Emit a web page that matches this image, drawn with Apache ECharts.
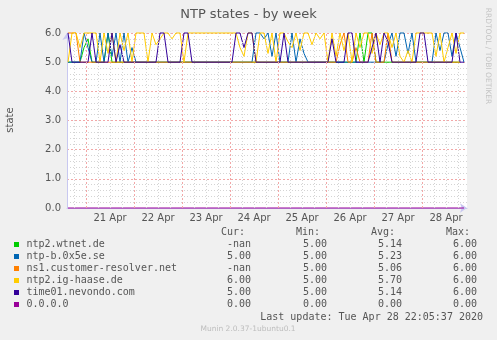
<!DOCTYPE html>
<html>
<head>
<meta charset="utf-8">
<script src="https://cdn.jsdelivr.net/npm/echarts@6/dist/echarts.min.js"></script>
<style>
html,body{margin:0;padding:0;background:#F0F0F0;}
#chart{width:497px;height:340px;}
</style>
</head>
<body>
<div id="chart"></div>
<script>
// time axis: hours since 20 Apr 00:00
const startHour = 15;
const stepHours = 2;
const axisMinHour = 14.5;
const axisMaxHour = 214.5;
const dayLabels = ['21 Apr','22 Apr','23 Apr','24 Apr','25 Apr','26 Apr','27 Apr','28 Apr'];
const dayLabelHours = [36,60,84,108,132,156,180,204];
const yTicks = [0,1,2,3,4,5,6];

const seriesNames = ['ntp2.wtnet.de','ntp-b.0x5e.se','ns1.customer-resolver.net','ntp2.ig-haase.de','time01.nevondo.com','0.0.0.0'];
const seriesColors = ['#00CC00','#0066B3','#FF8000','#FFCC00','#330099','#990099'];

const greenVals = [5,5,5,5,5.5,5.8,5,5,5,5, 6,5,5,5,5,5,5,5,5,5, 5,5,5,5,5,5,5,5,5,5, 5,5,5,5,5,5,5,5,5,5,
  5,5,5,5,5,5,5,5,5,5, 5,5,5,5,5,5,5,5,5,5, 5,5,5,5,5,5,5,5,5,5, 5,5,5,6,5,6,6,5,5,5, 5,5,5,5,5,5,5,5,5,5, 5,5,5,5,5,5,5,5,5,null];
const blueVals = [5,5,5,5,6,5.5,5,5,6,5, 6,5.2,6,5,6,5,5.5,5,5,5, 5,5,5,5,5,5,5,5,5,5, 5,5,5,5,5,5,5,5,5,5,
  5,5,5,5,5,5,5,6,6,5.8, 6,5.2,6,5,5,5,6,5,5.8,5.3, 5,5,5,5,5,5,5,5,5,5, 5,5,5,5,5,5,5,5,5,5,
  5.6,6,5.2,6,6,5.3,6,5,5,5, 5,5,6,5.4,6,6,5.2,6,5.5,5];
const orangeVals = [6,6,6,5,5,5,5,5,5,5, 5,5,5,5,5,5,5,5,5,5, 5,5,5,5,5,5,5,5,5,5, 5,5,5,5,5,5,5,5,5,5,
  5,5,5,5,5,5,5,5,5,5, 5,5,5,5,5,5,5,5,5,5, 5,5,5,5,5,5,5,5,5.6,6, 5,5,5.5,5,5,5,6,5,5,5,
  6,5,5,5,5,5,5,5,5,5, 5,5,5,5,5,5,5,5,5,null];
const yellowVals = [5,6,6,5.5,6,6,6,6,5,6, 5.3,6,5,6,5.4,6,5,6,6,6, 5,6,5.6,5.8,6,6,5.8,6,6,5, 6,6,6,6,6,6,6,6,6,6,
  6,6,6,5.5,5.2,6,6,5,6,6, 5.3,6,5,6,6,5.7,5.5,6,5.4,6, 6,5.6,6,5.8,6,5,6,5.2,6,5.4, 6,5,6,5.5,6,6,5.3,6,5.6,6,
  6,5.5,6,5.2,5,5.4,5,6,6,6, 6,6,5.2,6,5,5.5,6,5.3,6,6];
const purpleVals = [6,5,5,5,5,5,6,5,5,5, 5,6,5,5.6,5,5,5,5,5,5, 5,5,5,6,6,5,5,5,5,6, 6,5,5,5,5,5,5,5,5,5,
  5,5,6,6,5.5,6,6,5,5,5, 5,5,5,5,6,5,5,5,5,5, 5,5,5,5,5,5,5.8,5,5,5, 6,6,5,5,5,5,5.5,6,5,6,
  5.7,5,5,5,5,5,5,5,6,6, 5,5,5,5,5,5,5,6,5,5];
const magentaVals = new Array(100).fill(0);

const curVals = ['-nan','5.00','-nan','6.00','5.00','0.00'];
const minVals = ['5.00','5.00','5.00','5.00','5.00','0.00'];
const avgVals = ['5.14','5.23','5.06','5.70','5.14','0.00'];
const maxVals = ['6.00','6.00','6.00','6.00','6.00','0.00'];

const allVals = [greenVals, blueVals, orangeVals, yellowVals, purpleVals, magentaVals];

const chart = echarts.init(document.getElementById('chart'), null, {renderer:'canvas'});

const gridMarks = [];
for (let h = 18; h <= 210; h += 6) {
  if (h % 24 === 0) {
    gridMarks.push({xAxis: h, lineStyle: {color: '#F2A8A8', type: [2,2], width: 1}});
  } else {
    gridMarks.push({xAxis: h, lineStyle: {color: '#D4D4D4', type: [1,2], width: 1}});
  }
}

const series = [{
  type: 'line', data: [], silent: true, z: 1,
  markLine: {silent: true, symbol: ['none','none'], label: {show: false}, animation: false, data: gridMarks}
}];
allVals.forEach((vals, si) => {
  series.push({
    name: seriesNames[si], type: 'line', showSymbol: false, symbol: 'none', z: 3 + si * 0.01,
    connectNulls: false, animation: false, clip: false,
    lineStyle: {color: seriesColors[si], width: 1},
    itemStyle: {color: seriesColors[si]},
    data: vals.map((v, i) => [startHour + i * stepHours, v])
  });
});

const mono = 'DejaVu Sans Mono';
const textColor = '#555';
const graphics = [];
const rowY = [244.5, 256.5, 268.5, 280.5, 292.5, 304.5];
const colRight = [251, 327, 402, 477];
const headers = ['Cur:','Min:','Avg:','Max:'];
const headerRight = [245, 320, 395, 470];
headers.forEach((h, i) => {
  graphics.push({type:'text', x: headerRight[i], y: 232, style:{text:h, font:'10px "'+mono+'"', fill:textColor, align:'right', verticalAlign:'middle'}});
});
seriesNames.forEach((n, i) => {
  graphics.push({type:'rect', shape:{x:14, y:rowY[i]-2.5, width:5, height:5}, style:{fill:seriesColors[i]}});
  graphics.push({type:'text', x: 26.5, y: rowY[i], style:{text:n, font:'10px "'+mono+'"', fill:textColor, align:'left', verticalAlign:'middle'}});
  [curVals[i], minVals[i], avgVals[i], maxVals[i]].forEach((v, j) => {
    graphics.push({type:'text', x: colRight[j], y: rowY[i], style:{text:v, font:'10px "'+mono+'"', fill:textColor, align:'right', verticalAlign:'middle'}});
  });
});
graphics.push({type:'text', x: 483, y: 317, style:{text:'Last update: Tue Apr 28 22:05:37 2020', font:'10px "'+mono+'"', fill:textColor, align:'right', verticalAlign:'middle'}});
graphics.push({type:'text', x: 248, y: 329, style:{text:'Munin 2.0.37-1ubuntu0.1', font:'7.5px "DejaVu Sans"', fill:'#BDBDBD', align:'center', verticalAlign:'middle'}});
graphics.push({type:'text', x: 488, y: 56, rotation: -Math.PI/2, style:{text:'RRDTOOL / TOBI OETIKER', font:'7.5px "DejaVu Sans"', fill:'#C4C4C4', align:'center', verticalAlign:'middle'}});
graphics.push({type:'text', x: 10, y: 120, rotation: Math.PI/2, style:{text:'state', font:'10px "DejaVu Sans"', fill:textColor, align:'center', verticalAlign:'middle'}});

chart.setOption({
  animation: false,
  backgroundColor: '#F0F0F0',
  title: {text: 'NTP states - by week', left: 'center', top: 3, textStyle: {fontFamily: 'DejaVu Sans', fontSize: 13, fontWeight: 'normal', color: '#555'}},
  grid: {left: 67, right: 30, top: 33, bottom: 132, show: true, backgroundColor: '#FFFFFF', borderWidth: 0},
  xAxis: {
    type: 'value', min: axisMinHour, max: axisMaxHour,
    axisLine: {show: true, onZero: false, lineStyle: {color: '#C8C8F0', width: 1}, symbol: ['none','arrow'], symbolSize: [7,7]},
    axisTick: {show: false, customValues: dayLabelHours},
    splitLine: {show: false},
    axisLabel: {
      customValues: dayLabelHours,
      margin: 5, fontFamily: 'DejaVu Sans', fontSize: 10, color: textColor,
      formatter: function (v) { const i = dayLabelHours.indexOf(v); return i >= 0 ? dayLabels[i] : ''; }
    }
  },
  yAxis: {
    type: 'value', min: 0, max: 6, interval: 1,
    axisLine: {show: true, lineStyle: {color: '#C8C8F0', width: 1}, symbol: ['none','arrow'], symbolSize: [7,7]},
    axisTick: {show: false},
    minorTick: {show: false, splitNumber: 5},
    splitLine: {show: true, lineStyle: {color: '#F2A8A8', type: [2,2], width: 1}},
    minorSplitLine: {show: true, lineStyle: {color: '#D4D4D4', type: [1,2], width: 1}},
    axisLabel: {margin: 6, fontFamily: 'DejaVu Sans', fontSize: 10, color: textColor,
      formatter: function (v) { return yTicks.indexOf(v) >= 0 ? v.toFixed(1) : ''; }}
  },
  graphic: graphics,
  series: series
});
</script>
</body>
</html>
